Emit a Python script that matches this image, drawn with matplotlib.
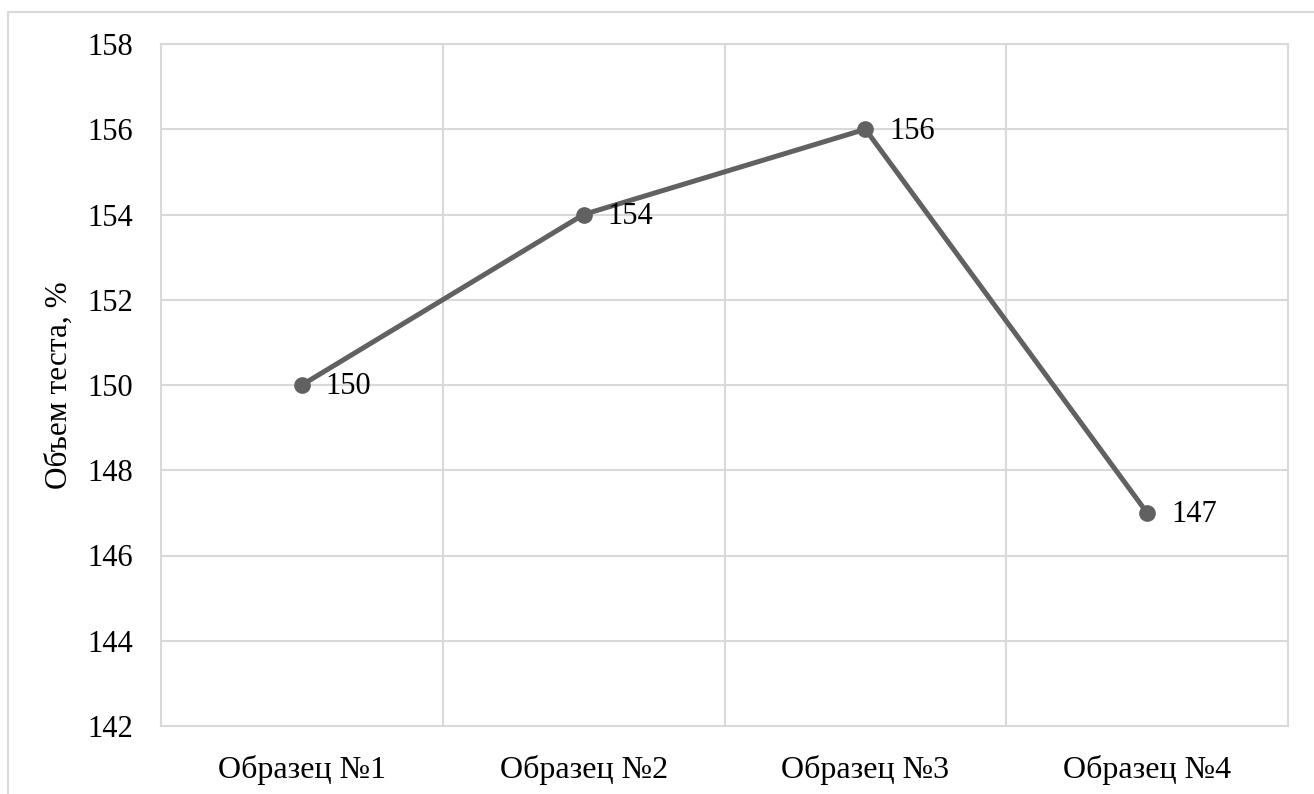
import matplotlib.pyplot as plt
from matplotlib.patches import Rectangle

# ── DATA ──────────────────────────────────────────────────────────────────────
categories = ["Образец №1", "Образец №2", "Образец №3", "Образец №4"]
volume = [150, 154, 156, 147]
y_ticks = [142, 144, 146, 148, 150, 152, 154, 156, 158]

GRID = "#d9d9d9"
LINE = "#616161"

plt.rcParams["font.family"] = ["Liberation Serif", "DejaVu Serif"]

fig = plt.figure(figsize=(13.14, 7.94), dpi=100)
ax = fig.add_axes([161 / 1314, 1 - 726 / 794, 1127 / 1314, 682 / 794])

# outer chart-area border (cut off at right and bottom, as in the original)
fig.patches.append(Rectangle((8 / 1314, -0.1), 1.2, 1 - 12 / 794 + 0.1,
                             transform=fig.transFigure, fill=False,
                             edgecolor=GRID, linewidth=1.5))

x = list(range(len(categories)))
ax.plot(x, volume, color=LINE, linewidth=3.6, marker="o", markersize=11,
        zorder=3)
for xi, v in zip(x, volume):
    ax.annotate(str(v), (xi, v), xytext=(24, -2), textcoords="offset pixels",
                ha="left", va="center", fontsize=22, color="black")

ax.set_xlim(-0.5, len(categories) - 0.5)
ax.set_ylim(y_ticks[0], y_ticks[-1])
ax.set_yticks(y_ticks)
ax.set_xticks(x)
ax.set_xticklabels(categories, fontsize=23)
ax.set_xticks([i + 0.5 for i in x[:-1]], minor=True)

ax.grid(axis="y", which="major", color=GRID, linewidth=1.5)
ax.grid(axis="x", which="minor", color=GRID, linewidth=1.5)
ax.grid(axis="x", which="major", visible=False)
ax.set_axisbelow(True)
for s in ax.spines.values():
    s.set_color(GRID)
    s.set_linewidth(1.5)

ax.tick_params(which="both", length=0, colors="black")
ax.tick_params(axis="y", labelsize=22, pad=20)
ax.tick_params(axis="x", pad=21)
ax.set_ylabel("Объем теста, %", fontsize=22.5, labelpad=10)

fig.savefig("out.png", dpi=100)
